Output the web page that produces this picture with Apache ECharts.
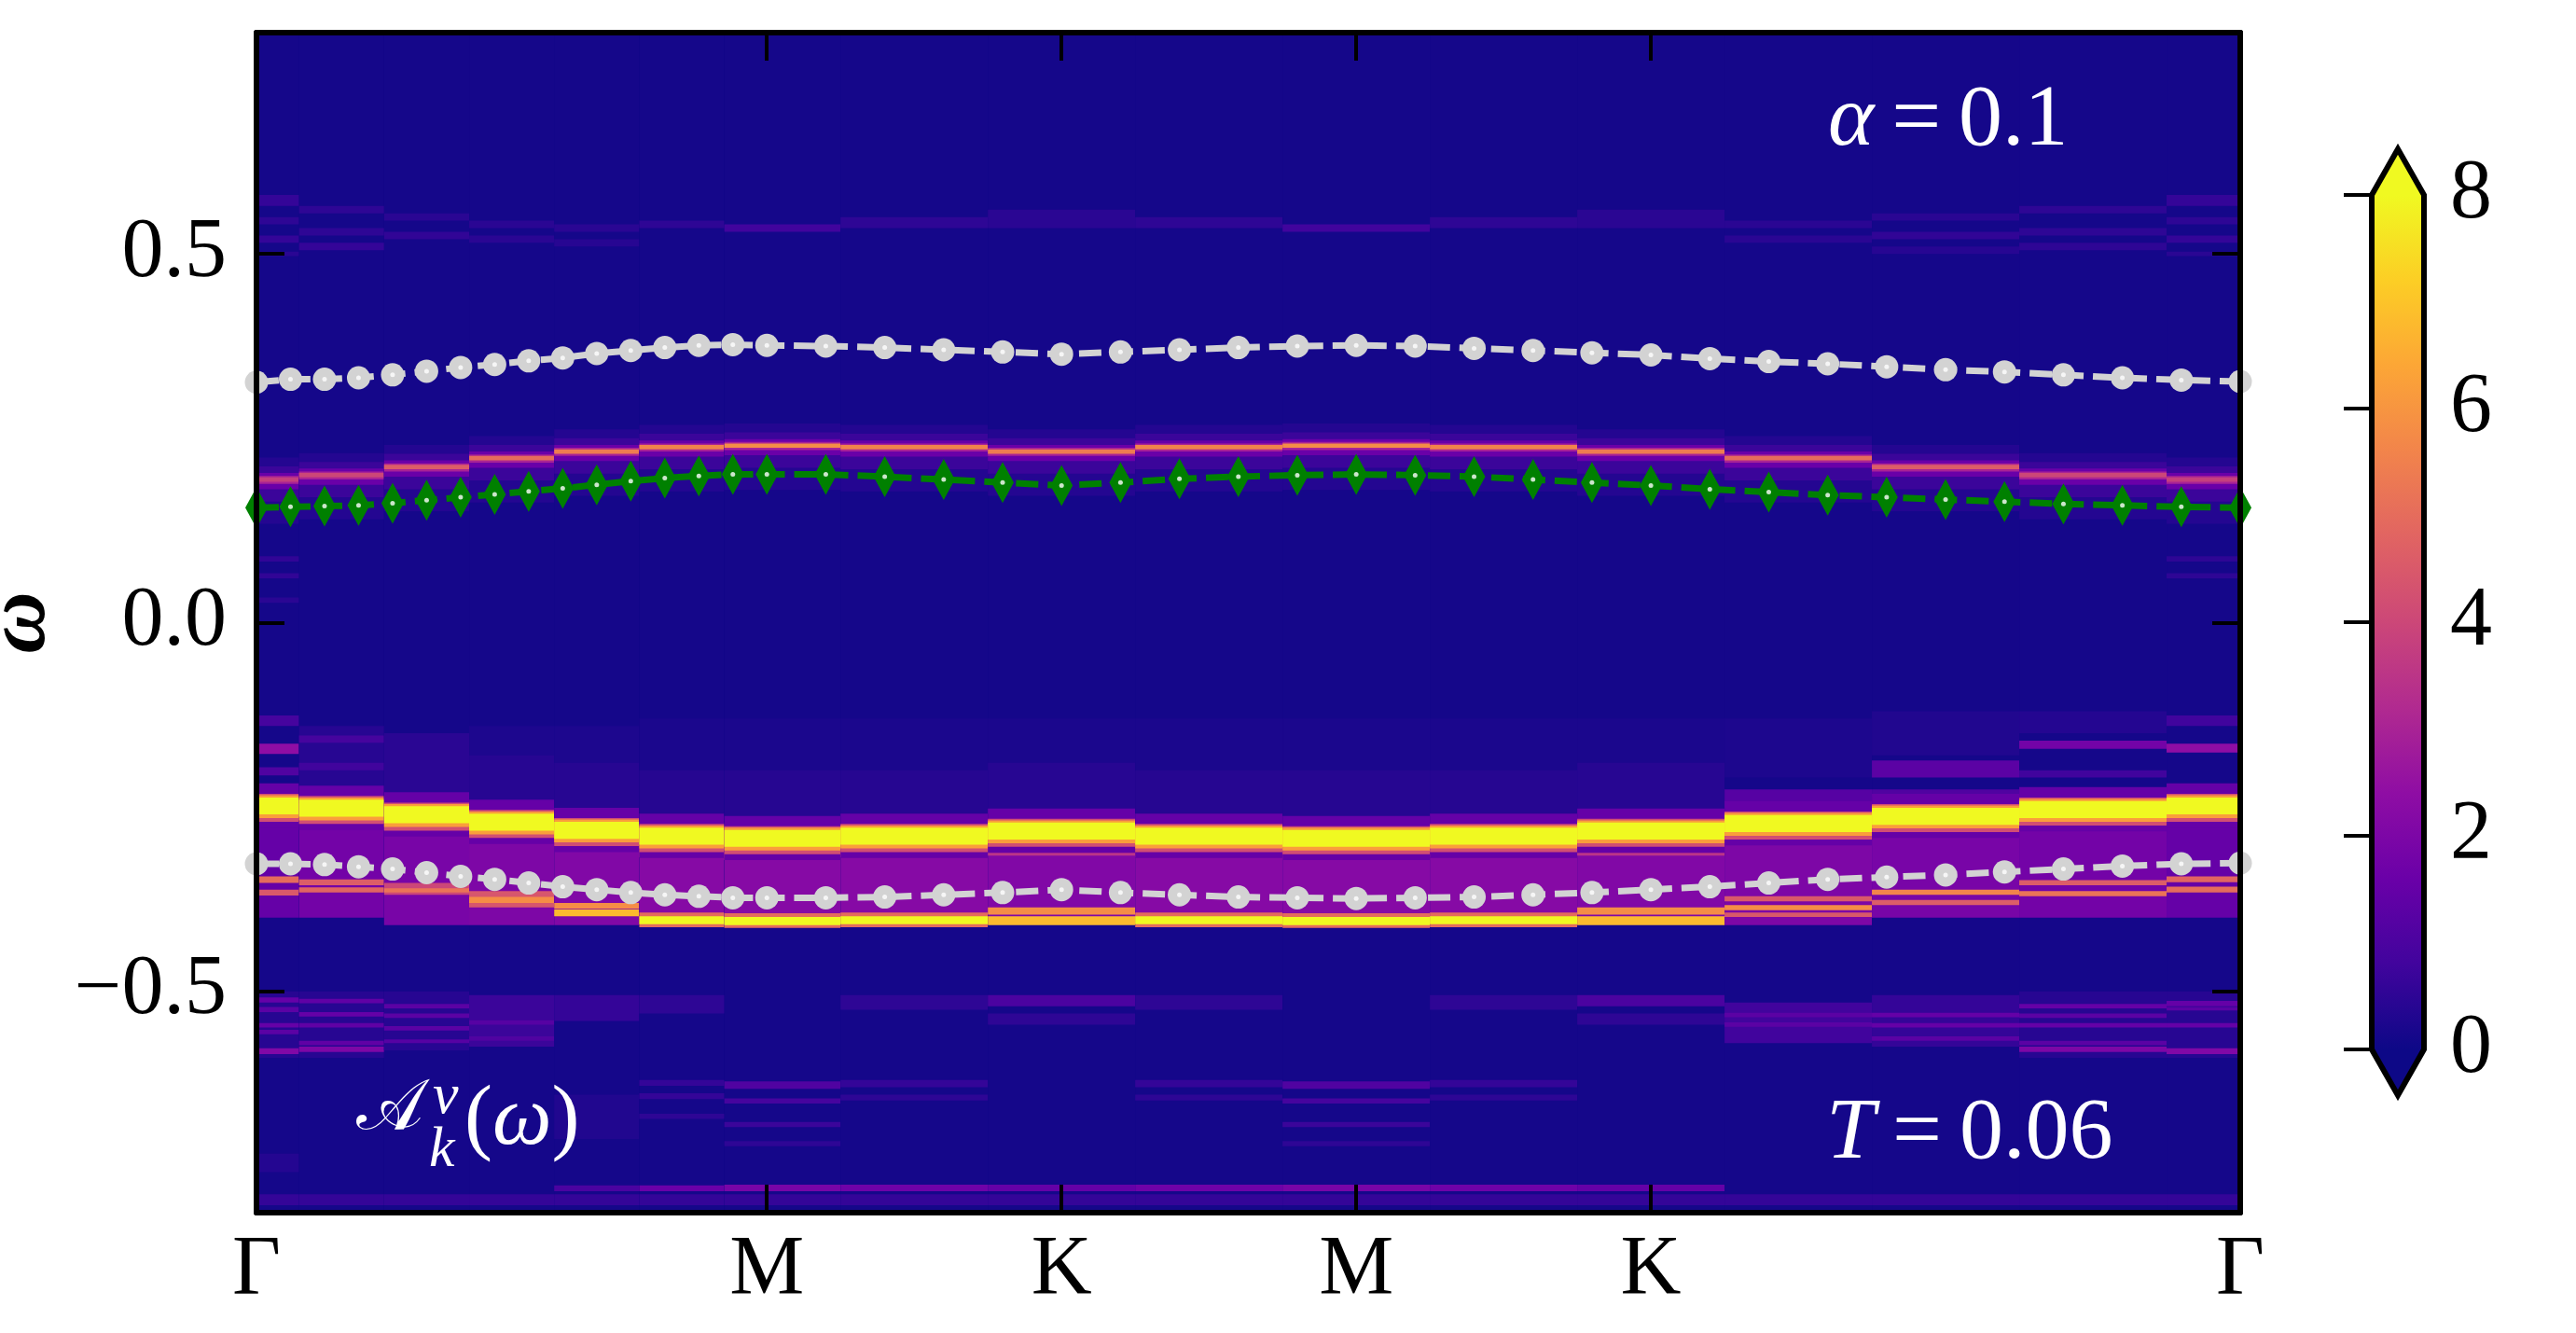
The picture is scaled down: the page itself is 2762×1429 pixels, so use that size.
<!DOCTYPE html>
<html>
<head>
<meta charset="utf-8">
<script src="https://cdn.jsdelivr.net/npm/echarts@6/dist/echarts.min.js"></script>
<style>
  html, body { margin: 0; padding: 0; background: #fff; }
  #chart { width: 2762px; height: 1429px; }
</style>
</head>
<body>
<div id="chart"></div>
<script>
// k-path Γ-M-K-M-K-Γ (segment lengths in units of |ΓM|)
const S3 = Math.sqrt(3);
const pathLabels = ['Γ', 'M', 'K', 'M', 'K', 'Γ'];
const segmentLength = [1, 1 / S3, 1 / S3, 1 / S3, 2 / S3];
const coarseSteps = [6, 2, 2, 2, 4];    // spectral-function k grid
const fineSteps = [15, 5, 5, 5, 10];    // band markers k grid

// band dispersions (omega) on the fine grid
const upperWhite = [
  0.326, 0.330, 0.330, 0.332, 0.336, 0.341, 0.346, 0.350, 0.355, 0.359, 0.365, 0.369, 0.373, 0.376, 0.377, 0.376,
  0.375, 0.373, 0.370, 0.367, 0.364,
  0.367, 0.370, 0.373, 0.375, 0.376,
  0.375, 0.372, 0.369, 0.366, 0.363,
  0.358, 0.354, 0.351, 0.347, 0.343, 0.340, 0.336, 0.332, 0.329, 0.327
];
const greenBand = [
  0.156, 0.157, 0.158, 0.159, 0.162, 0.166, 0.170, 0.174, 0.178, 0.182, 0.187, 0.192, 0.196, 0.199, 0.201, 0.201,
  0.201, 0.198, 0.194, 0.190, 0.186,
  0.190, 0.195, 0.198, 0.200, 0.201,
  0.200, 0.198, 0.194, 0.190, 0.186,
  0.181, 0.177, 0.173, 0.170, 0.167, 0.164, 0.161, 0.159, 0.157, 0.156
];
const lowerWhite = [
  -0.327, -0.327, -0.328, -0.331, -0.334, -0.339, -0.344, -0.348, -0.353, -0.358, -0.362, -0.366, -0.369, -0.371, -0.373, -0.373,
  -0.373, -0.372, -0.369, -0.366, -0.362,
  -0.366, -0.369, -0.372, -0.373, -0.374,
  -0.373, -0.372, -0.369, -0.366, -0.362,
  -0.358, -0.353, -0.348, -0.345, -0.342, -0.338, -0.334, -0.330, -0.327, -0.326
];

// spectral function A_k(omega), one column per coarse k point
const baseLevel = 0.12;
const mainCenter = [-0.248, -0.251, -0.260, -0.270, -0.281, -0.289, -0.292, -0.289, -0.282, -0.289, -0.292, -0.289, -0.282, -0.272, -0.262, -0.253, -0.248];
const upperCenter = [0.194, 0.200, 0.211, 0.223, 0.232, 0.238, 0.240, 0.238, 0.232, 0.238, 0.240, 0.238, 0.232, 0.223, 0.211, 0.200, 0.194];
const upperPeak = [3.8, 4.0, 4.6, 5.0, 5.4, 5.6, 5.8, 5.6, 5.4, 5.6, 5.8, 5.6, 5.4, 5.0, 4.6, 4.0, 3.8];
// peak shapes: [offset low, offset high, value], null = column peak
const mainProfile = [[-0.03, 0.03, 1.5], [-0.022, 0.016, 4.2], [-0.017, 0.014, 6.2], [-0.012, 0.011, 8]];
const upperProfile = [[-0.06, 0.03, 0.35], [-0.03, 0.018, 0.7], [-0.013, 0.009, 1.6], [-0.006, 0.005, 3.0], [-0.003, 0.003, null]];

// other features [omega low, omega high, value]
const featGamma0 = [
  [0.565, 0.58, 0.6], [0.54, 0.55, 0.5], [0.515, 0.525, 0.6], [0.497, 0.503, 0.45],
  [0.083, 0.09, 0.55], [0.06, 0.067, 0.55], [0.027, 0.034, 0.45],
  [-0.14, -0.126, 0.9], [-0.178, -0.164, 2.4], [-0.207, -0.196, 1.1], [-0.232, -0.222, 1.6],
  [-0.40, -0.262, 1.5],
  [-0.353, -0.344, 5.0], [-0.370, -0.362, 4.5],
  [-0.59, -0.50, 0.4],
  [-0.515, -0.508, 1.5], [-0.528, -0.521, 1.3], [-0.549, -0.543, 1.5], [-0.558, -0.552, 1.3], [-0.585, -0.577, 2.1],
  [-0.745, -0.72, 0.35], [-0.79, -0.775, 0.6]
];
const featC1 = [
  [0.555, 0.565, 0.5], [0.525, 0.535, 0.5], [0.505, 0.515, 0.6],
  [-0.245, -0.14, 0.4], [-0.163, -0.153, 0.9], [-0.2, -0.19, 0.8],
  [-0.40, -0.265, 1.8],
  [-0.356, -0.348, 4.6], [-0.366, -0.359, 4.8],
  [-0.59, -0.50, 0.4],
  [-0.516, -0.51, 1.4], [-0.534, -0.528, 1.5], [-0.549, -0.543, 1.4], [-0.573, -0.567, 1.4], [-0.582, -0.575, 2.0],
  [-0.79, -0.775, 0.6]
];
const featC2 = [
  [0.545, 0.555, 0.45], [0.52, 0.53, 0.55],
  [-0.24, -0.15, 0.45],
  [-0.41, -0.275, 1.9],
  [-0.369, -0.353, 4.0], [-0.366, -0.360, 5.2],
  [-0.58, -0.50, 0.4],
  [-0.523, -0.517, 1.3], [-0.536, -0.53, 1.3], [-0.553, -0.547, 1.3], [-0.57, -0.565, 1.2],
  [-0.79, -0.775, 0.6]
];
const featC3 = [
  [0.535, 0.545, 0.45], [0.515, 0.525, 0.45],
  [-0.25, -0.14, 0.25], [-0.25, -0.18, 0.4],
  [-0.41, -0.285, 2.0],
  [-0.386, -0.364, 4.4], [-0.38, -0.372, 5.8],
  [-0.575, -0.505, 0.7], [-0.545, -0.539, 1.2], [-0.567, -0.561, 1.1],
  [-0.79, -0.775, 0.6]
];
const featC4 = [
  [0.53, 0.54, 0.45], [0.51, 0.52, 0.4],
  [-0.26, -0.14, 0.25], [-0.26, -0.19, 0.4],
  [-0.41, -0.295, 2.1],
  [-0.388, -0.380, 5.8], [-0.398, -0.389, 6.8],
  [-0.54, -0.505, 0.6], [-0.70, -0.64, 0.3],
  [-0.771, -0.763, 1.0], [-0.79, -0.775, 0.6]
];
const featC5 = [
  [0.535, 0.545, 0.5],
  [-0.27, -0.13, 0.22], [-0.27, -0.2, 0.38],
  [-0.40, -0.30, 2.2], [-0.318, -0.306, 3.8],
  [-0.413, -0.393, 5.0], [-0.409, -0.398, 8],
  [-0.53, -0.505, 0.5], [-0.628, -0.62, 0.6], [-0.646, -0.638, 0.6], [-0.673, -0.666, 0.5],
  [-0.771, -0.763, 1.6], [-0.79, -0.775, 0.6]
];
const featM = [
  [0.53, 0.54, 0.8],
  [-0.27, -0.13, 0.22], [-0.27, -0.2, 0.38],
  [-0.40, -0.305, 2.2], [-0.322, -0.31, 3.8],
  [-0.414, -0.394, 5.0], [-0.41, -0.399, 8],
  [-0.632, -0.622, 1.1], [-0.652, -0.645, 0.9], [-0.684, -0.677, 0.7], [-0.71, -0.703, 0.5],
  [-0.771, -0.762, 1.9], [-0.79, -0.775, 0.6]
];
const featMK = [
  [0.535, 0.55, 0.5],
  [-0.27, -0.13, 0.22], [-0.27, -0.2, 0.38],
  [-0.40, -0.30, 2.2], [-0.318, -0.306, 3.8],
  [-0.413, -0.393, 5.0], [-0.409, -0.398, 8],
  [-0.525, -0.505, 0.5], [-0.63, -0.62, 0.6], [-0.648, -0.64, 0.5],
  [-0.771, -0.762, 1.7], [-0.79, -0.775, 0.6]
];
const featK = [
  [0.535, 0.56, 0.45],
  [-0.26, -0.13, 0.22], [-0.26, -0.19, 0.4],
  [-0.40, -0.295, 2.1], [-0.316, -0.302, 3.5],
  [-0.396, -0.386, 5.8], [-0.41, -0.398, 6.8],
  [-0.52, -0.505, 1.0], [-0.545, -0.53, 0.5],
  [-0.771, -0.762, 1.5], [-0.79, -0.775, 0.6]
];
const featC13 = [
  [0.535, 0.545, 0.45], [0.515, 0.525, 0.45],
  [-0.21, -0.13, 0.25], [-0.25, -0.226, 1.2],
  [-0.41, -0.29, 2.0],
  [-0.378, -0.371, 4.5], [-0.39, -0.383, 5.8], [-0.399, -0.393, 4.5],
  [-0.57, -0.515, 0.8], [-0.535, -0.529, 1.3], [-0.548, -0.542, 1.3],
  [-0.79, -0.775, 0.6]
];
const featC14 = [
  [0.545, 0.555, 0.45], [0.52, 0.53, 0.55], [0.50, 0.51, 0.4],
  [-0.18, -0.12, 0.3], [-0.21, -0.187, 1.3], [-0.236, -0.226, 1.1],
  [-0.40, -0.275, 1.9],
  [-0.369, -0.362, 5.6], [-0.383, -0.376, 4.6],
  [-0.575, -0.505, 0.6], [-0.535, -0.529, 1.5], [-0.549, -0.543, 1.5], [-0.567, -0.561, 1.3],
  [-0.79, -0.775, 0.6]
];
const featC15 = [
  [0.555, 0.565, 0.5], [0.525, 0.535, 0.5], [0.505, 0.515, 0.5],
  [-0.15, -0.12, 0.35], [-0.171, -0.16, 1.8], [-0.21, -0.2, 0.8],
  [-0.40, -0.265, 1.8],
  [-0.356, -0.349, 4.6], [-0.371, -0.364, 5.2],
  [-0.59, -0.50, 0.4],
  [-0.523, -0.517, 1.5], [-0.536, -0.53, 1.3], [-0.549, -0.543, 1.5], [-0.573, -0.567, 1.3], [-0.582, -0.575, 2.0],
  [-0.79, -0.775, 0.6]
];
const featGamma1 = [
  [0.565, 0.58, 0.6], [0.54, 0.55, 0.5], [0.515, 0.525, 0.6], [0.497, 0.503, 0.45],
  [0.083, 0.09, 0.5], [0.06, 0.067, 0.5],
  [-0.14, -0.126, 0.8], [-0.176, -0.164, 2.4], [-0.232, -0.222, 1.4],
  [-0.40, -0.262, 1.5],
  [-0.352, -0.344, 4.8], [-0.366, -0.358, 5.0],
  [-0.59, -0.50, 0.4],
  [-0.52, -0.513, 1.5], [-0.526, -0.521, 1.3], [-0.549, -0.543, 1.5], [-0.585, -0.577, 2.1],
  [-0.79, -0.775, 0.6]
];
const columnFeatures = [featGamma0, featC1, featC2, featC3, featC4, featC5, featM, featMK, featK,
  featMK, featM, featMK, featK, featC13, featC14, featC15, featGamma1];

const plasma = ['#0d0887', '#41049d', '#6a00a8', '#8f0da4', '#b12a90', '#cc4778',
  '#e16462', '#f2844b', '#fca636', '#fcce25', '#f0f921'];

// ---- build
function pathPoints(steps) {
  const pts = [0];
  let start = 0;
  steps.forEach((n, i) => {
    for (let j = 1; j <= n; j++) pts.push(start + segmentLength[i] * j / n);
    start += segmentLength[i];
  });
  return pts;
}
const tickPos = [0];
segmentLength.reduce((a, b) => { tickPos.push(a + b); return a + b; }, 0);
const kMax = tickPos[tickPos.length - 1];
const kCoarse = pathPoints(coarseSteps);
const kFine = pathPoints(fineSteps);

const cells = [];
kCoarse.forEach((k, i) => {
  const x0 = i === 0 ? 0 : (kCoarse[i - 1] + k) / 2;
  const x1 = i === kCoarse.length - 1 ? kMax : (k + kCoarse[i + 1]) / 2;
  cells.push([x0, x1, -0.8, 0.8, baseLevel]);
  columnFeatures[i].forEach(b => cells.push([x0, x1, b[0], b[1], b[2]]));
  upperProfile.forEach(p => cells.push([x0, x1, upperCenter[i] + p[0], upperCenter[i] + p[1], p[2] === null ? upperPeak[i] : p[2]]));
  mainProfile.forEach(p => cells.push([x0, x1, mainCenter[i] + p[0], mainCenter[i] + p[1], p[2]]));
});

const FONT = 'Liberation Serif';

function lineSeries(values, color, symbol, size) {
  return [{
    type: 'line',
    data: kFine.map((k, i) => [k, values[i]]),
    symbol: symbol,
    symbolSize: size,
    showAllSymbol: true,
    itemStyle: { color: color },
    lineStyle: { color: color, width: 7, type: [24, 10] },
    z: 3
  }, {
    type: 'scatter',
    data: kFine.map((k, i) => [k, values[i]]),
    symbolSize: 5,
    itemStyle: { color: '#ffffff' },
    z: 4
  }];
}

// white in-plot annotations
function note(text, left, top, size, italic, family) {
  return {
    text: text, left: left, top: top, padding: 0, z: 10,
    textStyle: {
      color: '#fff', fontFamily: family || FONT, fontSize: size, lineHeight: size,
      fontWeight: 'normal', fontStyle: italic ? 'italic' : 'normal',
      rich: { i: { color: '#fff', fontFamily: FONT, fontSize: size, lineHeight: size, fontStyle: 'italic' } }
    }
  };
}

const chart = echarts.init(document.getElementById('chart'));

const xCommon = {
  type: 'value', min: 0, max: kMax, gridIndex: 0, z: 5,
  axisLine: { onZero: false, lineStyle: { color: '#000', width: 6 } },
  axisTick: { inside: true, length: 30, customValues: tickPos, lineStyle: { color: '#000', width: 4 } },
  splitLine: { show: false }
};
const yCommon = {
  type: 'value', min: -0.8, max: 0.8, gridIndex: 0, z: 5,
  axisLine: { onZero: false, lineStyle: { color: '#000', width: 6 } },
  axisTick: { inside: true, length: 30, customValues: [-0.5, 0, 0.5], lineStyle: { color: '#000', width: 4 } },
  splitLine: { show: false }
};

chart.setOption({
  animation: false,
  backgroundColor: '#ffffff',
  title: [
    note('{i|α}\u2009=\u20090.1', 1960, 83, 94),
    note('{i|T}\u2009=\u20090.06', 1958, 1169, 94),
    note('𝒜', 382, 1152, 76, false, 'DejaVu Serif'),
    note('ν', 464, 1146, 62, true),
    note('k', 460, 1203, 62, true),
    note('({i|ω})', 498, 1157, 90)
  ],
  grid: [
    { left: 275, top: 35, width: 2127, height: 1265, show: true, backgroundColor: '#0d0887', borderWidth: 0, outerBoundsMode: 'none', containLabel: false },
    { left: 2543, top: 209, width: 56, height: 916, outerBoundsMode: 'none', containLabel: false }
  ],
  xAxis: [
    Object.assign({}, xCommon, {
      position: 'bottom',
      axisLabel: {
        customValues: tickPos, margin: 18, color: '#000', fontSize: 90, fontFamily: FONT,
        formatter: v => pathLabels[tickPos.findIndex(t => Math.abs(t - v) < 1e-6)]
      }
    }),
    Object.assign({}, xCommon, { position: 'top', axisLabel: { show: false } }),
    { type: 'value', gridIndex: 1, min: 0, max: 1, show: false }
  ],
  yAxis: [
    Object.assign({}, yCommon, {
      position: 'left',
      name: 'ω', nameLocation: 'middle', nameRotate: 90, nameGap: 204,
      nameTextStyle: { color: '#000', fontFamily: FONT, fontSize: 92, fontStyle: 'italic', fontWeight: 'bold' },
      axisLabel: {
        customValues: [-0.5, 0, 0.5], margin: 32, color: '#000', fontSize: 90, fontFamily: FONT,
        formatter: v => (v < 0 ? '\u2212' : '') + Math.abs(v).toFixed(1)
      }
    }),
    Object.assign({}, yCommon, { position: 'right', axisLabel: { show: false } }),
    {
      type: 'value', gridIndex: 1, min: 0, max: 8, interval: 2, position: 'right', z: 5,
      axisLine: { show: false },
      axisTick: { inside: true, length: 30, lineStyle: { color: '#000', width: 4 } },
      axisLabel: { margin: 28, color: '#000', fontSize: 90, fontFamily: FONT },
      splitLine: { show: false }
    }
  ],
  visualMap: {
    show: false, type: 'continuous', min: 0, max: 8, dimension: 4, seriesIndex: 0,
    inRange: { color: plasma }
  },
  series: [
    {
      type: 'custom',
      xAxisIndex: 0, yAxisIndex: 0,
      data: cells,
      encode: { x: [0, 1], y: [2, 3] },
      z: 1,
      renderItem: (params, api) => {
        const a = api.coord([api.value(0), api.value(3)]);
        const b = api.coord([api.value(1), api.value(2)]);
        return {
          type: 'rect',
          shape: { x: a[0], y: a[1], width: b[0] - a[0], height: b[1] - a[1] },
          style: { fill: api.visual('color') }
        };
      }
    },
    ...lineSeries(upperWhite, '#d3d3d3', 'circle', 25),
    ...lineSeries(lowerWhite, '#d3d3d3', 'circle', 25),
    ...lineSeries(greenBand, '#008000', 'diamond', [24, 44]),
    {
      // colorbar with extend triangles
      type: 'custom',
      xAxisIndex: 2, yAxisIndex: 2,
      data: [[0]],
      z: 1,
      renderItem: (params, api) => {
        const ext = 0.43;
        const p = [[0, 0], [0.5, -ext], [1, 0], [1, 8], [0.5, 8 + ext], [0, 8]].map(v => api.coord(v));
        const yTop = api.coord([0, 8])[1];
        const yBot = api.coord([0, 0])[1];
        return {
          type: 'polygon',
          shape: { points: p },
          style: {
            fill: new echarts.graphic.LinearGradient(0, yBot, 0, yTop,
              plasma.map((c, i) => ({ offset: i / (plasma.length - 1), color: c })), true),
            stroke: '#000', lineWidth: 6, lineJoin: 'miter'
          }
        };
      }
    }
  ]
});
</script>
</body>
</html>
